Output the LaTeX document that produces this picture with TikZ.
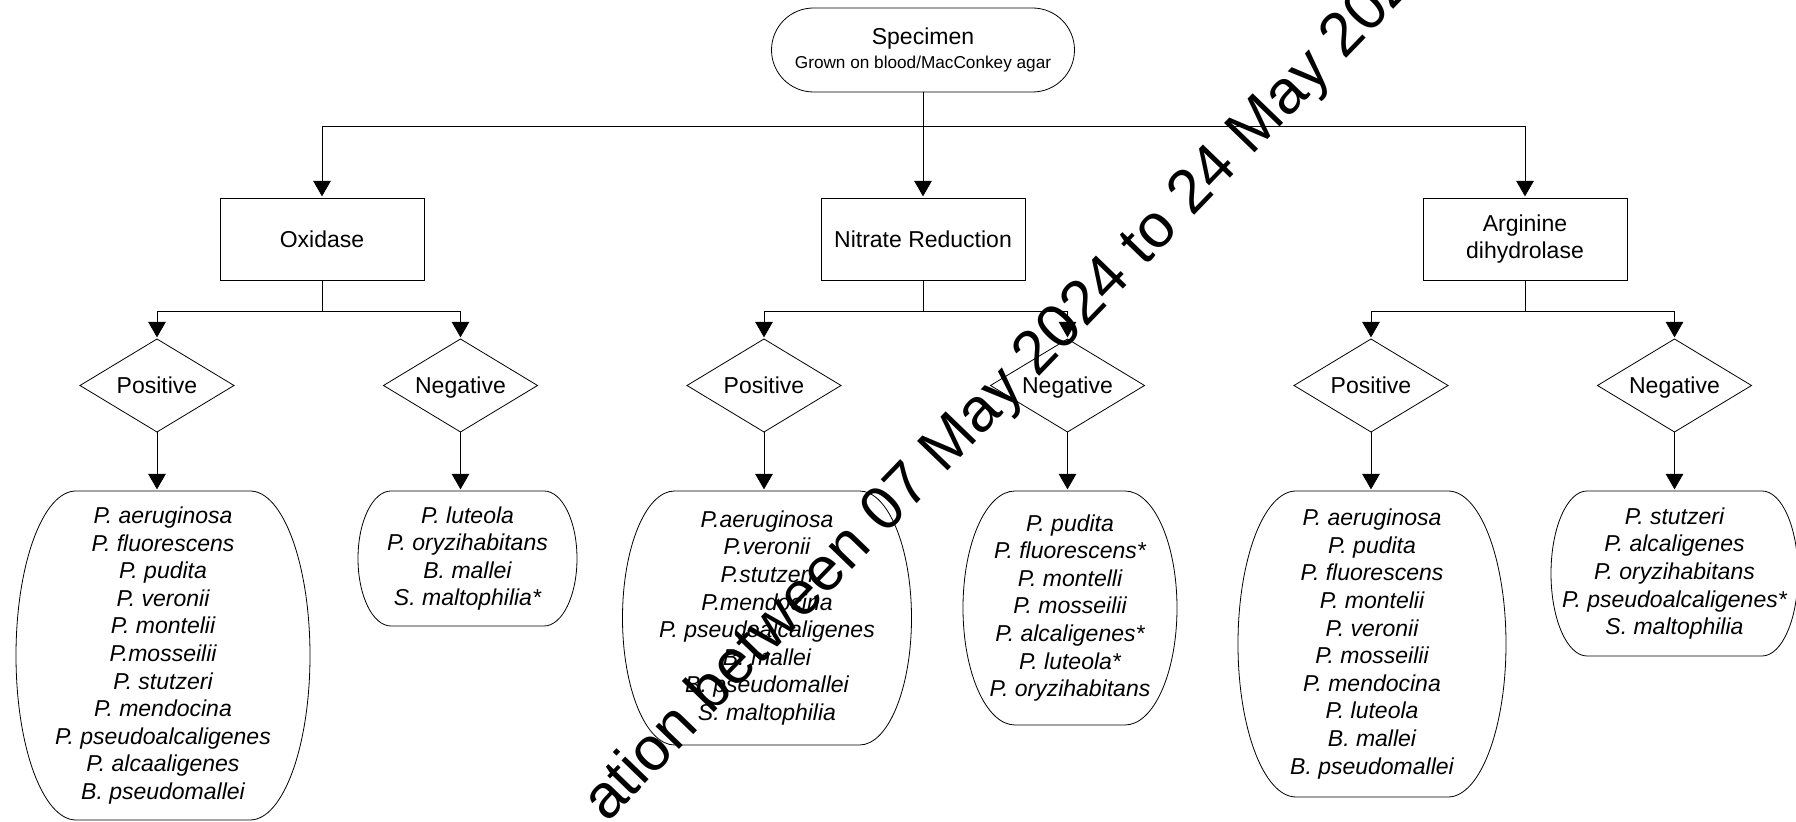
\documentclass[tikz,border=0pt]{standalone}
\usepackage{fontspec}
\setmainfont{Liberation Sans}
\usetikzlibrary{arrows.meta, shapes.geometric, positioning, calc}

% outline with half-ellipse sides round a list node
\newcommand{\pillbox}[2]{%
	\draw let \p1=(#1.north), \p2=(#1.south), \n1={(\y1-\y2)/2} in
		([xshift=#2]#1.north west) -- ([xshift=-#2]#1.north east)
		arc[start angle=90, end angle=-90, x radius=#2, y radius=\n1]
		-- ([xshift=#2]#1.south west)
		arc[start angle=270, end angle=90, x radius=#2, y radius=\n1] -- cycle;}

\begin{document}
\begin{tikzpicture}
			\tikzset {>={Triangle[width=10pt,length=9pt]}, line width=1.2pt, node distance=29.5pt,
				every node/.style={outer sep=0pt, font=\fontsize{11.5pt}{13.8pt}\selectfont},
				start/.style={draw, rounded corners=21pt, minimum width=151.5pt, minimum height=42pt, align=center},
				test/.style={draw, minimum width=102pt, minimum height=41pt, align=center},
				result/.style={draw, diamond, aspect=1.66, minimum width=77pt, minimum height=46.5pt, inner sep=0pt, text height=10.6pt, text depth=2.4pt},
				species/.style={align=center, inner sep=0pt, font=\fontsize{11.5pt}{13.8pt}\selectfont\itshape} }

			\useasboundingbox (0,0) rectangle (898pt,-411pt);

			\node[start] (spec) at (461.5pt,-25pt) {Specimen\\[-1.5pt]{\fontsize{8.6pt}{10pt}\selectfont Grown on blood/MacConkey agar}};

			\node[test, below=53pt of spec] (nit) {Nitrate Reduction};
			\node[test, left=198.5pt of nit] (oxi) {Oxidase};
			\node[test, right=199pt of nit] (arg) {Arginine\\dihydrolase};

			\node[result, below=of oxi, xshift=-82.5pt] (oxpos) {Positive};
			\node[result, right=74.75pt of oxpos] (oxneg) {Negative};
			\node[result, right=74.75pt of oxneg] (nitpos) {Positive};
			\node[result, right=74.75pt of nitpos] (nitneg) {Negative};
			\node[result, right=74.75pt of nitneg] (argpos) {Positive};
			\node[result, right=74.75pt of argpos] (argneg) {Negative};

			\node[species, minimum width=147pt, minimum height=164.5pt, below=of oxpos, xshift=3pt] (oxposlist)
				{P. aeruginosa\\P. fluorescens\\P. pudita\\P. veronii\\P. montelii\\P.mosseilii\\P. stutzeri\\P. mendocina\\P. pseudoalcaligenes\\P. alcaaligenes\\B. pseudomallei};
			\node[species, minimum width=109.5pt, minimum height=67.5pt, below=of oxneg, xshift=3.5pt] (oxneglist)
				{P. luteola\\P. oryzihabitans\\B. mallei\\S. maltophilia*};
			\node[species, minimum width=144.5pt, minimum height=127pt, below=of nitpos, xshift=1.5pt] (nitposlist)
				{P.aeruginosa\\P.veronii\\P.stutzeri\\P.mendocina\\P. pseudoalcaligenes\\B. mallei\\B. pseudomallei\\S. maltophilia};
			\node[species, minimum width=107pt, minimum height=117pt, below=of nitneg, xshift=1.25pt] (nitneglist)
				{P. pudita\\P. fluorescens*\\P. montelli\\P. mosseilii\\P. alcaligenes*\\P. luteola*\\P. oryzihabitans};
			\node[species, minimum width=134pt, minimum height=153pt, below=of argpos, xshift=0.5pt] (argposlist)
				{P. aeruginosa\\P. pudita\\P. fluorescens\\P. montelii\\P. veronii\\P. mosseilii\\P. mendocina\\P. luteola\\B. mallei\\B. pseudomallei};
			\node[species, minimum width=123.5pt, minimum height=82.5pt, below=of argneg] (argneglist)
				{P. stutzeri\\P. alcaligenes\\P. oryzihabitans\\P. pseudoalcaligenes*\\S. maltophilia};

			\pillbox{oxposlist}{30pt}
			\pillbox{oxneglist}{16.5pt}
			\pillbox{nitposlist}{26pt}
			\pillbox{nitneglist}{26pt}
			\pillbox{argposlist}{29pt}
			\pillbox{argneglist}{18pt}

			\coordinate (trunk) at ([yshift=-17pt]spec.south);
			\coordinate (oxsplit) at ([yshift=-15.5pt]oxi.south);
			\coordinate (nitsplit) at ([yshift=-15.5pt]nit.south);
			\coordinate (argsplit) at ([yshift=-15.5pt]arg.south);

			\draw (spec) -- (trunk);
			\draw[->] (trunk) -| (oxi);
			\draw[->] (trunk) -- (nit);
			\draw[->] (trunk) -| (arg);

			\draw (oxi) -- (oxsplit);
			\draw[->] (oxsplit) -| (oxpos);
			\draw[->] (oxsplit) -| (oxneg);
			\draw (nit) -- (nitsplit);
			\draw[->] (nitsplit) -| (nitpos);
			\draw[->] (nitsplit) -| (nitneg);
			\draw (arg) -- (argsplit);
			\draw[->] (argsplit) -| (argpos);
			\draw[->] (argsplit) -| (argneg);

			\draw[->] (oxpos) -- (oxpos.south |- oxposlist.north);
			\draw[->] (oxneg) -- (oxneg.south |- oxneglist.north);
			\draw[->] (nitpos) -- (nitpos.south |- nitposlist.north);
			\draw[->] (nitneg) -- (nitneg.south |- nitneglist.north);
			\draw[->] (argpos) -- (argpos.south |- argposlist.north);
			\draw[->] (argneg) -- (argneg.south |- argneglist.north);

			% watermark across the chart
			\begin{scope}
				\clip (0,0) rectangle (898pt,-411pt);
				\node[rotate=46, inner sep=0pt, font=\fontsize{30.8pt}{34pt}\selectfont] (wmark) at (500pt,-197pt) {ation between 07 May 2024 to 24 May 202};
			\end{scope}
		\end{tikzpicture}
\end{document}
